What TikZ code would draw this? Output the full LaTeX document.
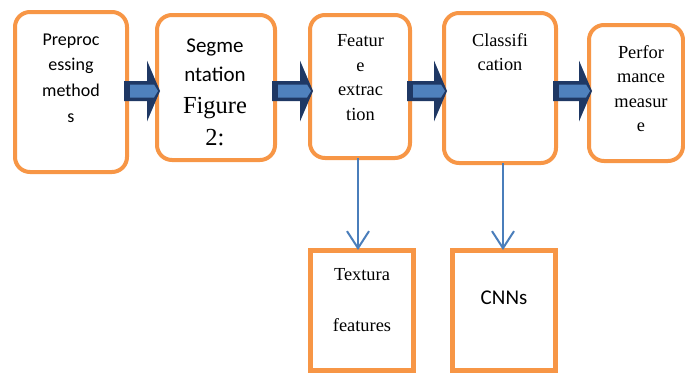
\documentclass[tikz,border=0pt]{standalone}
\usepackage{fontspec}
\setmainfont{Liberation Serif}
\newfontfamily\calibri{Carlito}
\usetikzlibrary{arrows.meta}
\usetikzlibrary{calc}
\definecolor{boxorange}{HTML}{F79646}
\definecolor{arrownavy}{HTML}{1F3864}
\definecolor{arrowblue}{HTML}{4F81BD}
\definecolor{linkblue}{HTML}{4A7EBB}

\begin{document}
\begin{tikzpicture}
	[x=1pt,y=-1pt,
		stage/.style={draw=boxorange,line width=4pt,fill=white,rounded corners=15pt,inner sep=0pt,outer sep=0pt},
		result/.style={draw=boxorange,line width=5pt,fill=white,inner sep=0pt,outer sep=0pt},
		caption/.style={align=center,inner sep=0pt,anchor=north},
		link/.style={draw=linkblue,line width=2pt,-{Straight Barb[length=17pt,width=22pt]}}]
	\useasboundingbox (0,0) rectangle (685,372);
	% pipeline boxes
	\node[stage,minimum width=112pt,minimum height=160pt] (pre) at (71,92) {};
	\node[stage,minimum width=118pt,minimum height=145pt] (seg) at (216,87.5) {};
	\node[stage,minimum width=100pt,minimum height=143pt] (feat) at (360,86.5) {};
	\node[stage,minimum width=112pt,minimum height=150pt] (cls) at (500,88) {};
	\node[stage,minimum width=94pt,minimum height=136pt] (perf) at (636,93) {};
	% output boxes
	\node[result,minimum width=103pt,minimum height=120pt] (tex) at (362,310) {};
	\node[result,minimum width=103pt,minimum height=120pt] (cnn) at (504,310) {};
	% texts
	\node[caption,font=\calibri\fontsize{18}{25.8}\selectfont] (pre-txt) at (71,33.3) {Preproc\\essing\\method\\s};
	\node[caption,font=\calibri\fontsize{21}{29}\selectfont] (seg-txt) at (215,38.4) {Segme\\ntation};
	\node[caption,font=\rmfamily\fontsize{24.5}{32}\selectfont] (fig-txt) at (215,97) {Figure\\2:};
	\node[caption,font=\rmfamily\fontsize{18.4}{24.5}\selectfont] (feat-txt) at (360.5,34.5) {Featur\\e\\extrac\\tion};
	\node[caption,font=\rmfamily\fontsize{18.3}{24.3}\selectfont] (cls-txt) at (500,33.2) {Classifi\\cation};
	\node[caption,font=\rmfamily\fontsize{18.4}{24.5}\selectfont] (perf-txt) at (641,45) {Perfor\\mance\\measur\\e};
	\node[caption,font=\rmfamily\fontsize{18.4}{51.7}\selectfont] (tex-txt) at (362,267.8) {Textura\\features};
	\node[caption,font=\calibri\fontsize{21}{25}\selectfont] (cnn-txt) at (504,290.7) {CNNs};
	% block arrows between the stages
	\coordinate (axis) at (0,91);
	\foreach \from/\to in {pre/seg,seg/feat,feat/cls,cls/perf}{
		\path ([xshift=-3pt]\from.east |- axis) coordinate (tail)
			([xshift=3pt]\to.west |- axis) coordinate (tip);
		\fill[arrownavy] let \p1=(tail), \p2=(tip) in
			(\x1,\y1+10pt) -- (\x2-13pt,\y1+10pt) -- (\x2-13pt,\y1+30.5pt) -- (\p2)
			-- (\x2-13pt,\y1-30.5pt) -- (\x2-13pt,\y1-10pt) -- (\x1,\y1-10pt) -- cycle;
		\fill[arrowblue] let \p1=(tail), \p2=(tip) in
			(\x1+6pt,\y1+6.5pt) -- (\x2-6pt,\y1+6.5pt) -- (\x2-2pt,\y1)
			-- (\x2-6pt,\y1-6.5pt) -- (\x1+6pt,\y1-6.5pt) -- cycle;
	}
	% links to the outputs
	\draw[link] ([xshift=-4pt]tex.north |- feat.south) -- ([xshift=-4pt]tex.north);
	\draw[link] ([xshift=-1pt]cnn.north |- cls.south) -- ([xshift=-1pt]cnn.north);
\end{tikzpicture}
\end{document}
